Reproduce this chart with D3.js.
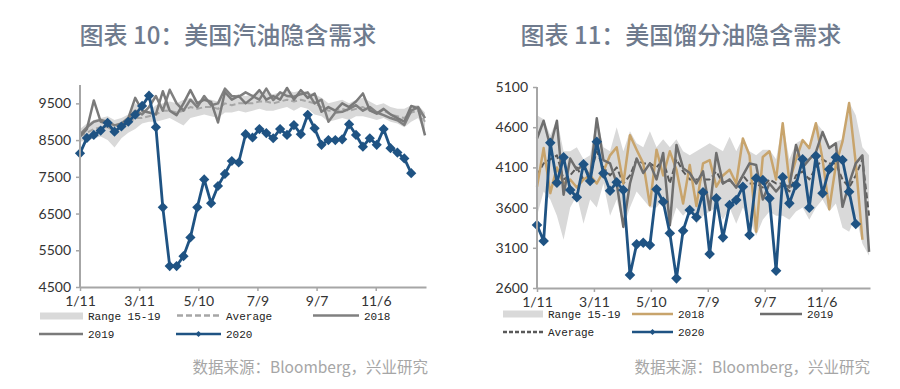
<!DOCTYPE html>
<html><head><meta charset="utf-8">
<script src="https://cdn.jsdelivr.net/npm/d3@7"></script>
<style>body{margin:0;background:#fff}svg{display:block}</style>
</head><body><svg id="c" width="900" height="389"></svg>
<script>
// ---------- data ----------
const tickLabels = ["1/11","3/11","5/10","7/9","9/7","11/6"];
const gasYTicks = [4500,5500,6500,7500,8500,9500];
const distYTicks = [2600,3100,3600,4100,4600,5100];

// Figure 10: gasoline implied demand (weekly from 1/11)
const gasLow  = [8450,8500,8550,8600,8500,8300,8550,8700,8800,8950,9000,9000,9050,9100,9000,8900,9100,9150,9200,9150,9100,9250,9250,9300,9250,9300,9350,9300,9300,9350,9400,9300,9400,9350,9200,9150,9000,9050,9100,9050,9150,9150,9100,9050,9100,9000,8950,8850,9000,9100,8700];
const gasHigh = [8800,8950,9050,9100,9150,9050,9100,9200,9500,9350,9300,9450,9500,9550,9500,9600,9650,9550,9650,9600,9550,9750,9700,9750,9700,9750,9800,9800,9750,9800,9850,9800,9850,9800,9750,9650,9500,9550,9600,9500,9600,9650,9550,9450,9500,9400,9350,9350,9450,9450,9250];
const gasAvg  = [8600,8700,8800,8850,8850,8750,8850,8950,9100,9100,9150,9200,9300,9300,9250,9300,9400,9350,9400,9400,9350,9500,9450,9500,9500,9500,9550,9550,9500,9550,9600,9550,9600,9550,9500,9400,9300,9300,9350,9300,9350,9400,9300,9250,9300,9200,9150,9100,9250,9300,9000];
const gas2018 = [8650,8850,9000,9050,9000,8900,8950,9100,9300,9200,9400,9700,9300,9870,9500,9300,9600,9400,9700,9450,9500,9900,9700,9680,9800,9700,9600,9900,9590,9800,9700,9680,9750,9800,9500,9600,9000,9250,9270,9350,9450,9300,9400,9250,9180,9100,9040,8910,9300,9400,9100];
const gas2019 = [8600,8800,9580,9000,8950,8700,8900,9100,9650,9300,9250,9200,9830,9300,9180,9500,9860,9500,9600,9540,8980,9810,9600,9700,9500,9650,9860,9600,9700,9600,9920,9600,9860,9650,9770,9270,9400,9300,9500,9400,9550,9770,9310,9220,9350,9200,9100,9000,9430,9360,8630];
const gas2020 = [8140,8560,8640,8760,8970,8730,8870,9000,9190,9430,9710,8850,6670,5070,5070,5340,5850,6670,7430,6780,7250,7580,7930,7890,8660,8570,8800,8690,8550,8800,8640,8910,8660,9190,8820,8370,8500,8500,8520,8930,8640,8320,8550,8370,8800,8280,8160,8000,7600];

// Figure 11: distillate implied demand
const distLow  = [3500,3800,3700,3500,3200,3600,3750,3400,3700,3600,3900,3500,3700,3350,3600,3800,3700,3600,3600,3700,3350,3600,3500,3600,3400,3500,3550,3600,3450,3600,3400,3600,3450,3250,3450,3550,3500,3500,3450,3550,3600,3450,3600,3700,3550,3650,3350,3300,3500,3150,3000];
const distHigh = [4750,4700,4500,4700,4300,4300,4350,4200,4250,4720,4350,4300,4600,4300,4550,4400,4350,4550,4350,4450,4350,4450,4300,4250,4300,4350,4400,4350,4300,4480,4300,4470,4300,4250,4320,4320,4200,4660,4200,4400,4450,4350,4660,4560,4350,4420,4450,4910,4750,4350,4250];
const distAvg  = [4000,4150,4200,4250,3950,4000,4100,3950,4000,4300,4100,4000,4100,3900,4000,4200,4150,4150,4100,4200,3900,4200,4050,3950,3950,3950,3950,4050,3900,3950,3850,4000,3900,3900,3850,3950,3900,3900,3800,4000,4050,3950,4100,4200,4150,4150,3950,3850,4000,4200,3500];
const dist2018 = [3860,4340,3780,4100,3900,3950,3850,3950,4000,3900,4050,4250,4350,3900,4500,4320,4150,3630,4320,4000,4300,4070,3650,4130,3620,4150,4190,3860,4000,4070,3900,4460,4250,3300,4230,4300,3950,4650,3920,4200,4440,4340,4650,4200,3580,4130,4420,4900,4150,3200];
const dist2019 = [4460,4680,4360,4680,3760,4210,4070,4130,3980,4710,4190,4150,3900,3360,3900,4210,4030,4150,3950,4280,3380,4380,4090,4030,3900,4050,3570,4280,3900,3950,3850,4000,4150,4130,3700,3900,3800,3900,3850,4380,4100,4200,4290,4540,4340,4400,3610,3900,4150,4250,3050];
const dist2020 = [3384,3185,4407,3910,4225,3819,3728,4138,3931,4420,4026,3810,3915,3819,2762,3143,3163,3135,3827,3673,3280,2720,3313,3570,3479,3790,3023,3715,3230,3632,3695,3860,3259,3964,3943,3715,2815,3977,3653,3881,4201,3599,4242,3778,4077,4226,4192,3798,3396];

// ---------- drawing ----------
const svg = d3.select("#c");
const start = new Date(2020,0,11);
const weekDate = i => d3.timeDay.offset(start, 7*i);
const tickDates = tickLabels.map(s => { const [m,d] = s.split("/").map(Number); return new Date(2020,m-1,d); });
const BLUE = "#1f5383";

function chart(cfg){
  const g = svg.append("g");
  const x = d3.scaleTime().domain([start, d3.timeDay.offset(start,351)]).range([cfg.x0, cfg.x1]);
  const y = d3.scaleLinear().domain(cfg.yDomain).range([cfg.yB, cfg.yT]);
  const px = (d,i)=>x(weekDate(i));

  // title
  svg.append("text").attr("x", cfg.titleX).attr("y", 44).attr("text-anchor","middle")
    .attr("font-family","Noto Sans CJK SC").attr("font-size",24).attr("font-weight",500)
    .attr("fill","#6f7b8e").text(cfg.title);

  // band
  g.append("path").datum(cfg.low)
    .attr("d", d3.area().x(px).y0(d=>y(d)).y1((d,i)=>y(cfg.high[i])))
    .attr("fill","#d9d9d9");

  const line = d3.line().x(px).y(d=>y(d));
  cfg.series.forEach(s=>{
    g.append("path").datum(s.data).attr("d", line).attr("fill","none")
      .attr("stroke", s.color).attr("stroke-width", s.w)
      .attr("stroke-dasharray", s.dash || null).attr("stroke-linejoin","round");
  });
  // 2020
  g.append("path").datum(cfg.cur).attr("d", line).attr("fill","none")
    .attr("stroke", BLUE).attr("stroke-width", 2.8).attr("stroke-linejoin","round");
  const sym = d3.symbol().type(d3.symbolSquare).size(cfg.mk);
  g.selectAll(".mk").data(cfg.cur).join("path")
    .attr("d", sym).attr("fill", BLUE)
    .attr("transform",(d,i)=>`translate(${px(d,i)},${y(d)}) rotate(45)`);

  // axes
  const ax = g.append("g").attr("transform",`translate(0,${cfg.yB})`)
    .call(d3.axisBottom(x).tickValues(tickDates).tickFormat((d,i)=>tickLabels[i]).tickSize(4).tickSizeOuter(0).tickPadding(5));
  const ay = g.append("g").attr("transform",`translate(${cfg.x0},0)`)
    .call(d3.axisLeft(y).tickValues(cfg.yTicks).tickFormat(d3.format("d")).tickSize(4).tickSizeOuter(0).tickPadding(5));
  [ax,ay].forEach(a=>{
    a.select(".domain").attr("stroke","#a6a6a6").attr("stroke-width",2);
    a.selectAll(".tick line").attr("stroke","#a6a6a6").attr("stroke-width",1.5);
    a.selectAll("text").attr("font-family","Lato").attr("font-size",14).attr("fill","#333");
  });
  ay.select(".domain").attr("d",`M0,${cfg.yT}V${cfg.yB}`);

  // legend
  const lg = svg.append("g").attr("font-family","Liberation Mono").attr("font-size",11).attr("fill","#222");
  cfg.legend.forEach(it=>{
    if(it.type==="band"){
      lg.append("rect").attr("x",it.x).attr("y",it.y-3.5).attr("width",it.w).attr("height",7).attr("fill","#d9d9d9");
    } else {
      lg.append("line").attr("x1",it.x).attr("x2",it.x+it.w).attr("y1",it.y).attr("y2",it.y)
        .attr("stroke",it.color).attr("stroke-width",2.5).attr("stroke-dasharray",it.dash||null);
      if(it.marker){
        lg.append("path").attr("d", d3.symbol().type(d3.symbolSquare).size(18)())
          .attr("fill",BLUE).attr("transform",`translate(${it.x+it.w/2},${it.y}) rotate(45)`);
      }
    }
    lg.append("text").attr("x",it.x+it.w+5).attr("y",it.y+4).text(it.label);
  });

  // source
  svg.append("text").attr("x",cfg.srcX).attr("y",373).attr("text-anchor","end")
    .attr("font-family","Noto Sans CJK SC").attr("font-size",15.5).attr("fill","#a6a6a6")
    .text("数据来源：Bloomberg，兴业研究");
}

chart({
  title:"图表 10：美国汽油隐含需求", titleX:228,
  x0:80, x1:426, yB:287, yT:85, yDomain:[4500,10000], yTicks:gasYTicks,
  low:gasLow, high:gasHigh, cur:gas2020, mk:52,
  series:[
    {data:gasAvg, color:"#a6a6a6", w:2, dash:"6,3"},
    {data:gas2018, color:"#808080", w:2.5},
    {data:gas2019, color:"#7a7a7a", w:2.5}
  ],
  legend:[
    {type:"band", x:40, y:316, w:43, label:"Range 15-19"},
    {x:177, y:315.5, w:44, color:"#a6a6a6", dash:"6,3", label:"Average"},
    {x:313, y:315.5, w:46, color:"#808080", label:"2018"},
    {x:39, y:334, w:44, color:"#7a7a7a", label:"2019"},
    {x:176, y:334, w:45, color:BLUE, marker:true, label:"2020"}
  ],
  srcX:428
});

chart({
  title:"图表 11：美国馏分油隐含需求", titleX:681,
  x0:537, x1:870, yB:288, yT:87, yDomain:[2600,5100], yTicks:distYTicks,
  low:distLow, high:distHigh, cur:dist2020, mk:56,
  series:[
    {data:distAvg, color:"#595959", w:2, dash:"6,3"},
    {data:dist2018, color:"#c8a46c", w:2.5},
    {data:dist2019, color:"#6e6e6e", w:2.5}
  ],
  legend:[
    {type:"band", x:503, y:314, w:40, label:"Range 15-19"},
    {x:632, y:314, w:41, color:"#c8a46c", label:"2018"},
    {x:760, y:314, w:42, color:"#6e6e6e", label:"2019"},
    {x:503, y:332, w:40, color:"#595959", dash:"4,2", label:"Average"},
    {x:632, y:332, w:41, color:BLUE, marker:true, label:"2020"}
  ],
  srcX:870
});
</script></body></html>
